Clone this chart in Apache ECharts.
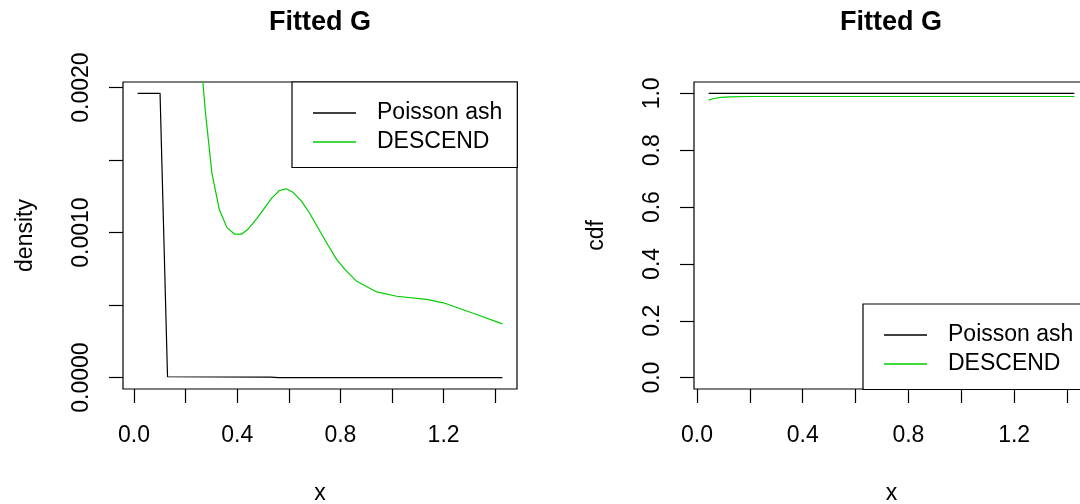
<!DOCTYPE html>
<html>
<head>
<meta charset="utf-8">
<script src="https://cdn.jsdelivr.net/npm/echarts@6/dist/echarts.min.js"></script>
<style>
html,body{margin:0;padding:0;background:#fff;}
#c{width:1080px;height:504px;}
</style>
</head>
<body>
<div id="c"></div>
<script>
// ---- data ----
const seriesNames = ['Poisson ash', 'DESCEND'];

// left panel: density
const densAshX = [0.014, 0.101, 0.130, 0.53, 0.56, 1.428];
const densAshY = [0.00196, 0.00196, 0.000006, 0.000004, 0, 0];
const densDescX = [0.267, 0.276, 0.302, 0.331, 0.360, 0.389, 0.418, 0.444, 0.476, 0.534, 0.564, 0.590, 0.618, 0.650, 0.682, 0.747, 0.786, 0.818, 0.863, 0.941, 1.018, 1.134, 1.199, 1.328, 1.428];
const densDescY = [0.00204, 0.001846, 0.001410, 0.001157, 0.001036, 0.000990, 0.000990, 0.001027, 0.001096, 0.001238, 0.001290, 0.001302, 0.001276, 0.001215, 0.001130, 0.000928, 0.000814, 0.000745, 0.000664, 0.000591, 0.000561, 0.000539, 0.000516, 0.000435, 0.000371];

// right panel: cdf
const cdfAshX = [0.044, 1.428];
const cdfAshY = [1.0, 1.0];
const cdfDescX = [0.044, 0.063, 0.090, 0.126, 0.200, 1.428];
const cdfDescY = [0.976, 0.982, 0.986, 0.988, 0.989, 0.989];

// ticks / labels
const xTicks = [0, 0.2, 0.4, 0.6, 0.8, 1.0, 1.2, 1.4];
const xLabels = [0, 0.4, 0.8, 1.2];
const densTicks = [0, 0.0005, 0.001, 0.0015, 0.002];
const densLabels = [0, 0.001, 0.002];
const cdfTicks = [0, 0.2, 0.4, 0.6, 0.8, 1.0];
const cdfLabels = [0, 0.2, 0.4, 0.6, 0.8, 1.0];

const titleText = 'Fitted G';
const xName = 'x';
const densName = 'density';
const cdfName = 'cdf';

// ---- styling ----
const FONT = 'Liberation Sans, Arial, Helvetica, sans-serif';
const FS = 23;
const GREEN = '#00CD00';
const LW = 1.2;

function zip(xs, ys){ return xs.map((x,i)=>[x, ys[i]]); }

function xAxisCfg(gi, min, max){
  return {
    type:'value', gridIndex:gi, min:min, max:max, position:'bottom',
    name:xName, nameLocation:'middle', nameGap:93,
    nameTextStyle:{fontFamily:FONT, fontSize:FS, color:'#000'},
    axisLine:{show:false, onZero:false},
    axisTick:{show:true, inside:false, length:14, customValues:xTicks, lineStyle:{color:'#000', width:LW}},
    axisLabel:{show:true, margin:35, customValues:xLabels, fontFamily:FONT, fontSize:FS, color:'#000', lineHeight:FS,
      formatter:v=>Number(v).toFixed(1)},
    splitLine:{show:false}
  };
}
function yAxisCfg(gi, min, max, ticks, labels, dec, name){
  return {
    type:'value', gridIndex:gi, min:min, max:max, position:'left',
    name:name, nameLocation:'middle', nameGap:86,
    nameTextStyle:{fontFamily:FONT, fontSize:FS, color:'#000'},
    axisLine:{show:false, onZero:false},
    axisTick:{show:true, inside:false, length:14, customValues:ticks, lineStyle:{color:'#000', width:LW}},
    axisLabel:{show:true, rotate:90, margin:30, customValues:labels, fontFamily:FONT, fontSize:FS, color:'#000', lineHeight:FS,
      formatter:v=>Number(v).toFixed(dec)},
    splitLine:{show:false}
  };
}
function legendCfg(left, top){
  return {
    orient:'vertical', left:left, top:top,
    data:seriesNames,
    icon:'rect',
    padding:[19.5, 15, 14, 21], itemGap:6,
    itemWidth:43, itemHeight:1.3,
    borderColor:'#000', borderWidth:LW, borderRadius:0, backgroundColor:'#fff',
    textStyle:{fontFamily:FONT, fontSize:FS, color:'#000', lineHeight:FS, padding:[0,0,0,16]},
    selectedMode:false
  };
}
function lineSeries(name, xi, data, color){
  return {
    type:'line', name:name, xAxisIndex:xi, yAxisIndex:xi, data:data,
    symbol:'none', showSymbol:false, clip:true, smooth:false,
    lineStyle:{color:color, width:LW}, itemStyle:{color:color},
    animation:false, silent:true
  };
}

const chart = echarts.init(document.getElementById('c'), null, {renderer:'canvas'});
chart.setOption({
  animation:false,
  backgroundColor:'#fff',
  title:[
    {text:titleText, left:320, top:9, textAlign:'center', padding:0,
     textStyle:{fontFamily:FONT, fontSize:27, fontWeight:'bold', color:'#000', lineHeight:27}},
    {text:titleText, left:891, top:9, textAlign:'center', padding:0,
     textStyle:{fontFamily:FONT, fontSize:27, fontWeight:'bold', color:'#000', lineHeight:27}}
  ],
  legend:[legendCfg(292, 82), legendCfg(863, 304)],
  grid:[
    {left:123, top:82, width:394, height:307, show:true, borderColor:'#000', borderWidth:LW, backgroundColor:'transparent', containLabel:false, outerBoundsMode:'none'},
    {left:694, top:82, width:395, height:307, show:true, borderColor:'#000', borderWidth:LW, backgroundColor:'transparent', containLabel:false, outerBoundsMode:'none'}
  ],
  xAxis:[xAxisCfg(0, -0.0426, 1.4846), xAxisCfg(1, -0.0114, 1.4834)],
  yAxis:[
    yAxisCfg(0, -0.0000784, 0.0020384, densTicks, densLabels, 4, densName),
    yAxisCfg(1, -0.04, 1.04, cdfTicks, cdfLabels, 1, cdfName)
  ],
  series:[
    lineSeries(seriesNames[0], 0, zip(densAshX, densAshY), '#000'),
    lineSeries(seriesNames[1], 0, zip(densDescX, densDescY), GREEN),
    lineSeries(seriesNames[0], 1, zip(cdfAshX, cdfAshY), '#000'),
    lineSeries(seriesNames[1], 1, zip(cdfDescX, cdfDescY), GREEN)
  ]
});
</script>
</body>
</html>
